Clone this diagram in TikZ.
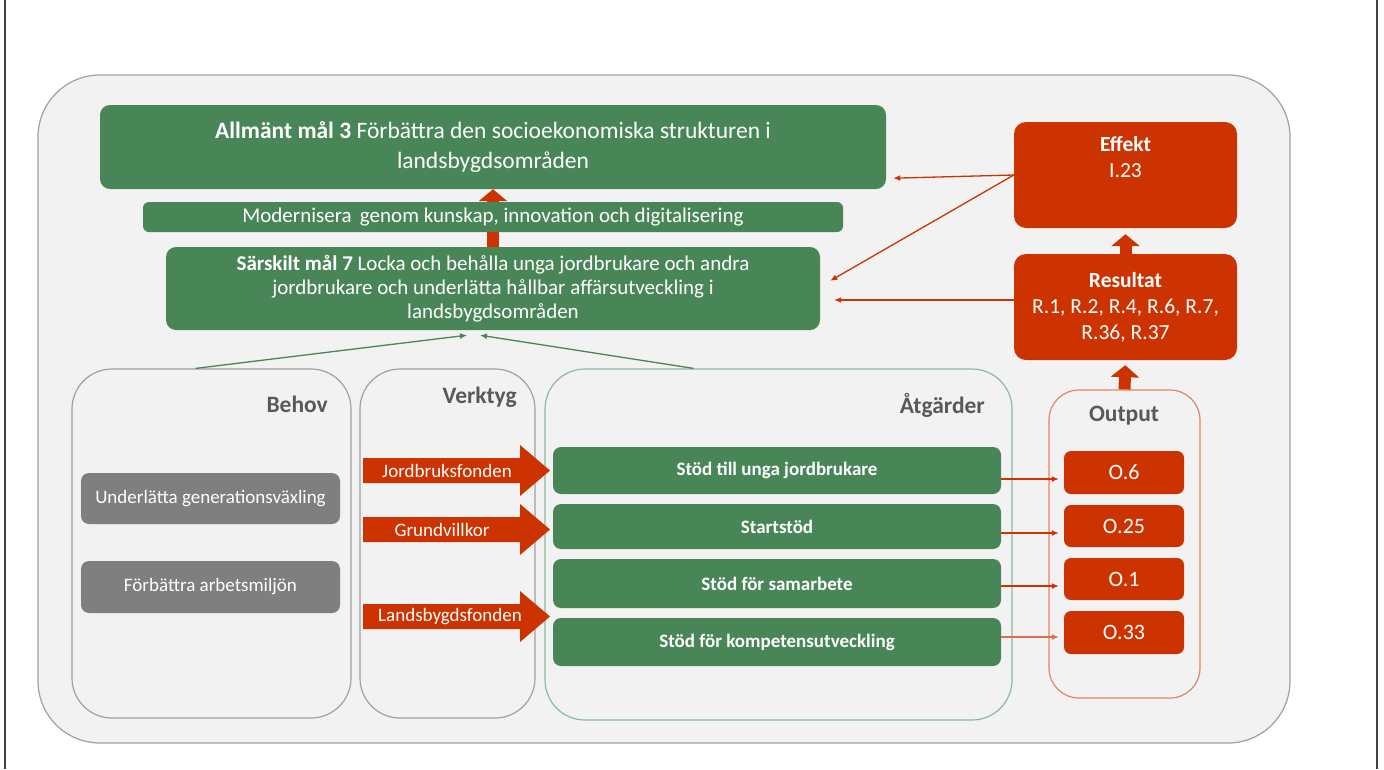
\documentclass[tikz,border=0pt]{standalone}
\usepackage{fontspec}
\setmainfont{Carlito}
\usetikzlibrary{arrows.meta,calc}
\definecolor{gr}{RGB}{72,134,88}
\definecolor{rd}{RGB}{204,51,0}
\definecolor{gy}{RGB}{127,127,127}
\definecolor{bg}{RGB}{242,242,242}
\definecolor{ol}{RGB}{160,160,160}
\definecolor{olg}{RGB}{140,186,154}
\definecolor{olr}{RGB}{232,130,100}
\definecolor{lab}{RGB}{89,89,89}
\begin{document}
\begin{tikzpicture}[x=1pt,y=-1pt,
  gbox/.style={fill=gr,rounded corners=10pt,inner sep=0pt,text=white,align=center},
  rbox/.style={fill=rd,rounded corners=12pt,inner sep=0pt,text=white,align=center},
  graybox/.style={fill=gy,rounded corners=8pt,inner sep=0pt,text=white,align=center,font=\fontsize{19}{22}\selectfont},
  panel/.style={fill=bg,draw=ol,line width=1.2pt,rounded corners=40pt,inner sep=0pt},
  plab/.style={text=lab,font=\bfseries\fontsize{23.5}{26}\selectfont,inner sep=0pt},
  actbox/.style={gbox,rounded corners=8pt,font=\bfseries\fontsize{19}{22}\selectfont},
  obox/.style={rbox,rounded corners=7pt,font=\fontsize{22}{24}\selectfont},
  thin/.style={draw=rd,line width=1.3pt,-{Latex[length=7pt,width=6pt]}},
  thing/.style={draw=gr,line width=1.3pt,-{Latex[length=7pt,width=6pt]}},
  bigarrow/.style={draw=rd,line width=12pt,-{Triangle[length=12pt,width=28pt]}},
  blockarr/.style={fill=rd},
  btext/.style={text=white,font=\fontsize{19}{22}\selectfont,inner sep=0pt}
]
\useasboundingbox (0,0) rectangle (1384,769);
% page frame
\draw[line width=1.8pt,black!75] (5,0) -- (5,769);
\draw[line width=1.8pt,black!75] (1377,0) -- (1377,769);
% outer panel
\node[fill=bg,draw=ol,line width=1.2pt,rounded corners=62pt,minimum width=1252pt,minimum height=668pt,inner sep=0pt] (outer) at (664,409) {};

\node[gbox,minimum width=786pt,minimum height=84pt,font=\fontsize{23.5}{30}\selectfont] (all) at (493,147)
  {\textbf{Allmänt mål 3} Förbättra den socioekonomiska strukturen i\\landsbygdsområden};
\node[gbox,minimum width=654pt,minimum height=83pt,font=\fontsize{21}{24}\selectfont] (sar) at (493,288.5)
  {\textbf{Särskilt mål 7} Locka och behålla unga jordbrukare och andra\\jordbrukare och underlätta hållbar affärsutveckling i\\landsbygdsområden};
% thick arrow under modernisera bar
\draw[bigarrow] (sar.north) -- (all.south);
\node[gbox,rounded corners=6pt,minimum width=700pt,minimum height=30pt,font=\fontsize{21}{23}\selectfont] (mod) at (493,217)
  {Modernisera\, genom kunskap, innovation och digitalisering};

% red boxes right
\node[rbox,minimum width=223pt,minimum height=106pt] (eff) at (1125.5,175) {};
\node[text=white,align=center,anchor=north,inner sep=0pt,font=\fontsize{21.5}{26}\selectfont] (efft) at (1125.5,136) {\textbf{Effekt}\\I.23};
\node[rbox,minimum width=223pt,minimum height=106pt,font=\fontsize{21.5}{26}\selectfont] (res) at (1125.5,307)
  {\textbf{Resultat}\\R.1, R.2, R.4, R.6, R.7,\\R.36, R.37};

% panels
\node[panel,minimum width=279pt,minimum height=349pt] (beh) at (211.5,543.5) {};
\node[plab,anchor=east] (behl) at (328,404) {Behov};
\node[panel,minimum width=175pt,minimum height=349pt] (ver) at (447.5,543.5) {};
\node[plab,anchor=east] (verl) at (517,397) {Verktyg};
\node[panel,draw=olg,minimum width=467pt,minimum height=351pt] (atg) at (778.5,544.5) {};
\node[plab,anchor=east] (atgl) at (985,405) {Åtgärder};
\node[panel,draw=olr,rounded corners=30pt,minimum width=151pt,minimum height=308pt] (out) at (1124.5,544) {};
\node[plab] (outl) at (1124,416) {Output};

% behov boxes
\node[graybox,minimum width=259pt,minimum height=51pt] (b1) at (210.5,498.5) {Underlätta generationsväxling};
\node[graybox,minimum width=259pt,minimum height=52pt] (b2) at (210.5,587) {Förbättra arbetsmiljön};

% action boxes
\node[actbox,minimum width=448pt,minimum height=47pt] (a1) at (777,470.5) {Stöd till unga jordbrukare};
\node[actbox,minimum width=448pt,minimum height=45pt] (a2) at (777,526.5) {Startstöd};
\node[actbox,minimum width=448pt,minimum height=49pt] (a3) at (777,583.5) {Stöd för samarbete};
\node[actbox,minimum width=448pt,minimum height=48pt] (a4) at (777,642) {Stöd för kompetensutveckling};

% output boxes
\node[obox,minimum width=120pt,minimum height=43pt] (o1) at (1124,472.5) {O.6};
\node[obox,minimum width=120pt,minimum height=42pt] (o2) at (1124,526) {O.25};
\node[obox,minimum width=120pt,minimum height=42pt] (o3) at (1124,579) {O.1};
\node[obox,minimum width=120pt,minimum height=43pt] (o4) at (1124,632.5) {O.33};

% block arrows (verktyg)
\fill[blockarr] (363,458) -- (520,458) -- (520,445) -- (550,470.5) -- (520,496) -- (520,483) -- (363,483) -- cycle;
\node[btext] (v1) at (447,470.5) {Jordbruksfonden};
\fill[blockarr] (363,517) -- (520,517) -- (520,504) -- (550,529.5) -- (520,555) -- (520,542) -- (363,542) -- cycle;
\node[btext] (v2) at (442,529.5) {Grundvillkor};
\fill[blockarr] (363,604) -- (520,604) -- (520,591) -- (550,616.5) -- (520,642) -- (520,629) -- (363,629) -- cycle;
\node[btext] (v3) at (450,616.5) {Landsbygdsfonden};

% thin arrows
\coordinate (s1) at ($(a1.east)+(0,8.5)$);
\coordinate (s2) at ($(a2.east)+(0,6.5)$);
\coordinate (s3) at ($(a3.east)+(0,2.5)$);
\coordinate (s4) at ($(a4.east)+(0,-5)$);
\draw[thin,shorten >=5pt] (s1) -- (s1 -| o1.west);
\draw[thin,shorten >=5pt] (s2) -- (s2 -| o2.west);
\draw[thin,shorten >=5pt] (s3) -- (s3 -| o3.west);
\draw[thin,shorten >=5pt,draw=rd!70] (s4) -- (s4 -| o4.west);
\draw[thin] (eff.west) -- ($(all.south east)+(7,-11)$);
\draw[thin] (eff.west) -- ($(sar.north east)+(10,34)$);
\draw[thin] ($(res.west)+(0,-7)$) -- ($(sar.east)+(14,11.5)$);
\draw[thing] ($(beh.north)+(-16,0)$) -- ($(sar.south)+(-26,5)$);
\draw[thing] ($(atg.north)+(-85,0)$) -- ($(sar.south)+(-13,5)$);

% thick arrows right
\draw[bigarrow,shorten >=6pt] (res.north) -- (eff.south);
\draw[bigarrow,shorten >=5pt] (out.north) -- (res.south);
\end{tikzpicture}
\end{document}
